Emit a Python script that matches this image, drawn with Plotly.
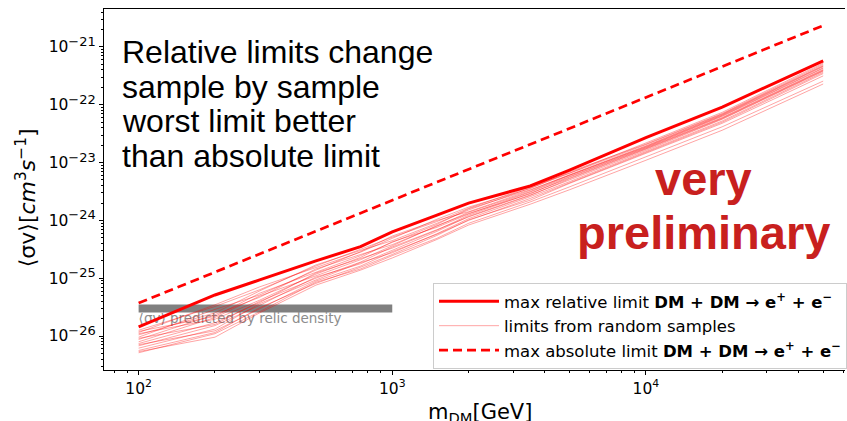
import plotly.graph_objects as go

# ---------------- data ----------------
mass_gev = [100, 200, 300, 500, 750, 1000, 1500, 2000, 3500, 5000, 10000, 20000, 50000]

# log10 of <sigma v> [cm^3 s^-1]
log_max_relative = [-25.84, -25.29, -25.03, -24.70, -24.455, -24.20, -23.91, -23.70,
                    -23.405, -23.13, -22.57, -22.04, -21.24]
log_max_absolute = [-25.43, -24.895, -24.58, -24.19, -23.87, -23.65, -23.34, -23.12,
                    -22.69, -22.41, -21.87, -21.34, -20.63]

log_samples = [
    [-25.90, -25.49, -25.20, -24.79, -24.50, -24.29, -24.02, -23.79, -23.42, -23.18, -22.66, -22.13, -21.28],
    [-25.94, -25.46, -25.15, -24.81, -24.55, -24.31, -23.98, -23.77, -23.45, -23.16, -22.68, -22.15, -21.30],
    [-25.98, -25.60, -25.22, -24.77, -24.52, -24.35, -24.05, -23.82, -23.44, -23.19, -22.69, -22.16, -21.32],
    [-26.02, -25.54, -25.29, -24.86, -24.54, -24.27, -24.00, -23.85, -23.48, -23.21, -22.71, -22.17, -21.33],
    [-25.92, -25.66, -25.26, -24.89, -24.61, -24.38, -24.07, -23.80, -23.47, -23.22, -22.72, -22.18, -21.34],
    [-26.06, -25.63, -25.33, -24.84, -24.59, -24.42, -24.10, -23.86, -23.50, -23.22, -22.73, -22.19, -21.36],
    [-25.96, -25.71, -25.38, -24.93, -24.64, -24.37, -24.12, -23.89, -23.51, -23.24, -22.74, -22.20, -21.37],
    [-26.10, -25.68, -25.31, -24.96, -24.68, -24.44, -24.09, -23.88, -23.54, -23.25, -22.75, -22.22, -21.39],
    [-26.13, -25.77, -25.42, -24.91, -24.66, -24.48, -24.17, -23.91, -23.53, -23.27, -22.76, -22.23, -21.40],
    [-26.04, -25.80, -25.40, -25.00, -24.72, -24.46, -24.16, -23.94, -23.57, -23.28, -22.77, -22.24, -21.41],
    [-26.17, -25.82, -25.47, -24.98, -24.75, -24.52, -24.19, -23.93, -23.56, -23.30, -22.79, -22.25, -21.42],
    [-26.21, -25.88, -25.44, -25.03, -24.73, -24.56, -24.23, -23.97, -23.59, -23.33, -22.81, -22.28, -21.44],
    [-26.15, -25.91, -25.53, -25.05, -24.79, -24.54, -24.24, -24.00, -23.62, -23.35, -22.83, -22.30, -21.46],
    [-26.25, -25.94, -25.51, -25.09, -24.81, -24.59, -24.26, -23.99, -23.65, -23.36, -22.84, -22.32, -21.50],
    [-26.29, -25.96, -25.58, -25.07, -24.84, -24.61, -24.31, -24.05, -23.68, -23.42, -22.90, -22.38, -21.59],
    [-26.27, -26.02, -25.60, -25.12, -24.86, -24.65, -24.33, -24.08, -23.72, -23.47, -22.96, -22.44, -21.64],
]

relic_mass = [100, 1000]
relic_sigmav = [3e-26, 3e-26]

x_tickvals = [1e2, 1e3, 1e4]
x_ticktext = ["10<sup>2</sup>", "10<sup>3</sup>", "10<sup>4</sup>"]
y_tickvals = [1e-26, 1e-25, 1e-24, 1e-23, 1e-22, 1e-21]
y_exponents = ["\u221226", "\u221225", "\u221224", "\u221223", "\u221222", "\u221221"]
y_ticktext = ["10<sup><span style='font-size:13px'>" + e + "</span></sup>" for e in y_exponents]

x_minor = [80, 90] + [k * 10 ** e for e in (2, 3) for k in range(2, 10)] + [k * 1e4 for k in range(2, 8)]
y_minor = [k * 10.0 ** e for e in range(-27, -20) for k in range(2, 10)]

# ---------------- layout helpers ----------------
W, H = 847, 421
ML, MR, MT, MB = 104, 0, 9, 51
PW, PH = W - ML - MR, H - MT - MB


def px(x):
    return (x - ML) / PW


def py(y):
    return (H - MB - y) / PH


def tolin(vals):
    return [10 ** v for v in vals]


FONT = "DejaVu Sans"
LEG_EQ = "<b>DM + DM \u2192 e<sup>+</sup> + e<sup>\u2212</sup></b>"

fig = go.Figure()

# relic density band
fig.add_trace(go.Scatter(x=relic_mass, y=relic_sigmav, mode="lines",
                         line=dict(color="#808080", width=8), showlegend=False,
                         hoverinfo="skip"))
fig.add_trace(go.Scatter(x=[100], y=[1.92e-26], mode="text",
                         text=["\u27e8\u03c3v\u27e9 predicted by relic density"],
                         textposition="middle right",
                         textfont=dict(family=FONT, size=13.5, color="#8c8c8c"),
                         showlegend=False, hoverinfo="skip"))

# random samples
for i, s in enumerate(log_samples):
    fig.add_trace(go.Scatter(x=mass_gev, y=tolin(s), mode="lines",
                             line=dict(color="rgba(255,0,0,0.4)", width=0.9),
                             name="limits from random samples",
                             showlegend=(i == 0), legendrank=2,
                             legendgroup="samples"))

fig.add_trace(go.Scatter(x=mass_gev, y=tolin(log_max_relative), mode="lines",
                         line=dict(color="#ff0000", width=3),
                         name="max relative limit " + LEG_EQ, legendrank=1,
                         legendgroup="rel"))
fig.add_trace(go.Scatter(x=mass_gev, y=tolin(log_max_absolute), mode="lines",
                         line=dict(color="#ff0000", width=2.7, dash="9px,5px"),
                         name="max absolute limit " + LEG_EQ, legendrank=3,
                         legendgroup="abs"))

axis_common = dict(showline=True, linecolor="black", linewidth=1.2, ticks="outside",
                   ticklen=4, tickwidth=1, tickcolor="black", showgrid=False,
                   zeroline=False, tickfont=dict(family=FONT, size=15.5, color="black"),
                   tickmode="array")

fig.update_xaxes(type="log", range=[1.8635, 4.785], tickvals=x_tickvals,
                 ticktext=x_ticktext, mirror=True,
                 minor=dict(ticks="outside", ticklen=2, tickwidth=1, tickcolor="black",
                            tickmode="array", tickvals=x_minor),
                 **axis_common)
fig.update_yaxes(type="log", range=[-26.588, -20.343], tickvals=y_tickvals,
                 ticktext=y_ticktext, mirror=False,
                 minor=dict(ticks="outside", ticklen=2, tickwidth=1, tickcolor="black",
                            tickmode="array", tickvals=y_minor),
                 **axis_common)

ann = []
# axis titles
ann.append(dict(x=px(481.5), y=py(412.6), xref="paper", yref="paper",
                text="m<sub>DM</sub>[GeV]", showarrow=False,
                font=dict(family=FONT, size=21, color="black"),
                xanchor="center", yanchor="middle"))
ann.append(dict(x=px(26), y=py(198), xref="paper", yref="paper",
                text="\u27e8\u03c3v\u27e9[<i>cm</i><sup>3</sup><i>s</i><sup>\u22121</sup>]",
                showarrow=False, textangle=-90,
                font=dict(family=FONT, size=22, color="black"),
                xanchor="center", yanchor="middle"))
# comment text
comment_lines = ["Relative limits change", "sample by sample",
                 "worst limit better", "than absolute limit"]
for line, yc in zip(comment_lines, [52.3, 86.8, 121.3, 155.8]):
    ann.append(dict(x=px(120.5), y=py(yc), xref="paper", yref="paper", text=line,
                    showarrow=False, xanchor="left", yanchor="middle",
                    font=dict(family="Liberation Sans", size=32, color="black")))
for word, yc in zip(["very", "preliminary"], [179, 232]):
    ann.append(dict(x=px(704.7), y=py(yc), xref="paper", yref="paper",
                    text="<b>" + word + "</b>", showarrow=False,
                    xanchor="center", yanchor="middle",
                    font=dict(family="Liberation Sans", size=47, color="#c8201e")))

fig.update_layout(
    width=W, height=H,
    margin=dict(l=ML, r=MR, t=MT, b=MB, pad=0),
    paper_bgcolor="white", plot_bgcolor="white",
    font=dict(family=FONT, color="black"),
    annotations=ann,
    showlegend=True,
    legend=dict(x=px(434), y=py(283), xanchor="left", yanchor="top",
                bgcolor="rgba(255,255,255,0.8)", bordercolor="#cccccc", borderwidth=1,
                font=dict(family=FONT, size=16.5, color="black"),
                itemwidth=60, tracegroupgap=0),
)

fig.write_html("out.html")
